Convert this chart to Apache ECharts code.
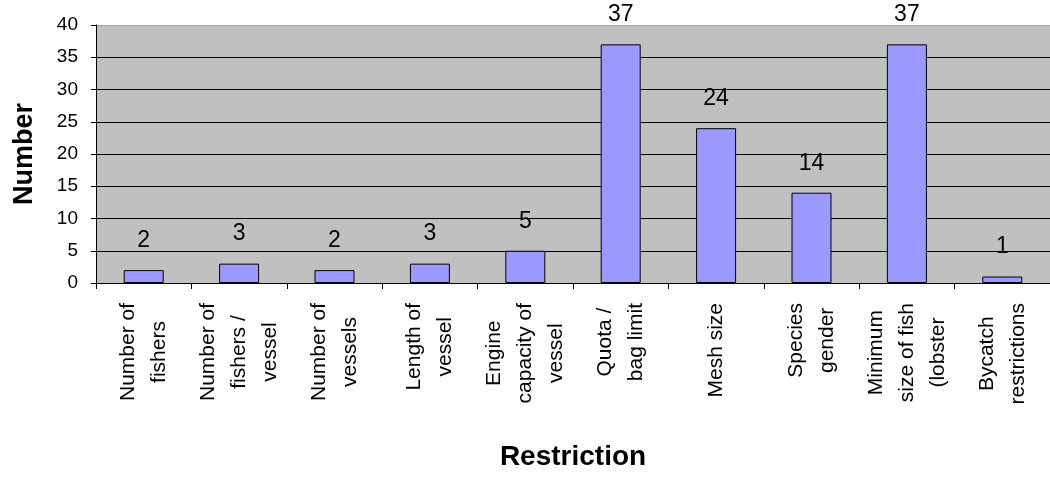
<!DOCTYPE html>
<html>
<head>
<meta charset="utf-8">
<script src="https://cdn.jsdelivr.net/npm/echarts@6/dist/echarts.min.js"></script>
<style>
  html, body { margin: 0; padding: 0; background: #ffffff; }
  #chart { width: 1050px; height: 479px; }
</style>
</head>
<body>
<div id="chart"></div>
<script>
const categories = ['Number of fishers', 'Number of fishers / vessel', 'Number of vessels', 'Length of vessel', 'Engine capacity of vessel', 'Quota / bag limit', 'Mesh size', 'Species gender', 'Minimum size of fish (lobster', 'Bycatch restrictions'];
const labelLines = [
  ['Number of', 'fishers'],
  ['Number of', 'fishers /', 'vessel'],
  ['Number of', 'vessels'],
  ['Length of', 'vessel'],
  ['Engine', 'capacity of', 'vessel'],
  ['Quota /', 'bag limit'],
  ['Mesh size'],
  ['Species', 'gender'],
  ['Minimum', 'size of fish', '(lobster'],
  ['Bycatch', 'restrictions']
];
const values = [2, 3, 2, 3, 5, 37, 24, 14, 37, 1];
const yTicks = [0, 5, 10, 15, 20, 25, 30, 35, 40];

const FONT = 'Arial, "Liberation Sans", sans-serif';
const chart = echarts.init(document.getElementById('chart'), null, { renderer: 'canvas' });

const gridColors = yTicks.map((t, i) => i === yTicks.length - 1 ? '#a0a0a0' : '#000000');

chart.setOption({
  animation: false,
  grid: {
    left: 96, right: -4, top: 25, bottom: 196,
    show: true, backgroundColor: '#c0c0c0', borderWidth: 0
  },
  xAxis: {
    type: 'category',
    data: categories,
    boundaryGap: true,
    name: 'Restriction',
    nameLocation: 'middle',
    nameGap: 160,
    nameTextStyle: { fontFamily: FONT, fontWeight: 'bold', fontSize: 28, color: '#000' },
    axisLine: { lineStyle: { color: '#000', width: 1 } },
    axisTick: { show: true, length: 6, alignWithLabel: false, lineStyle: { color: '#000' } },
    axisLabel: {
      interval: 0,
      rotate: 90,
      margin: 20,
      fontFamily: FONT,
      fontSize: 21,
      color: '#000',
      formatter: function (v, idx) {
        return labelLines[idx].map(l => '{c|' + l + '}').join('\n');
      },
      rich: {
        c: { align: 'center', fontFamily: FONT, fontSize: 21, lineHeight: 31, color: '#000' }
      }
    }
  },
  yAxis: {
    type: 'value',
    min: 0, max: 40, interval: 5,
    name: 'Number',
    nameLocation: 'middle',
    nameGap: 58,
    nameTextStyle: { fontFamily: FONT, fontWeight: 'bold', fontSize: 27, color: '#000' },
    axisLine: { show: true, lineStyle: { color: '#000', width: 1 } },
    axisTick: { show: true, length: 5, lineStyle: { color: '#000' } },
    axisLabel: { margin: 18, fontFamily: FONT, fontSize: 19, color: '#000' },
    splitLine: { show: true, lineStyle: { color: gridColors, width: 1 } }
  },
  series: [{
    type: 'bar',
    data: values,
    barWidth: 40,
    itemStyle: { color: '#9999ff', borderColor: '#000', borderWidth: 1 },
    label: {
      show: true, position: 'top', distance: 18,
      fontFamily: FONT, fontSize: 23, color: '#000'
    }
  }]
});
</script>
</body>
</html>
